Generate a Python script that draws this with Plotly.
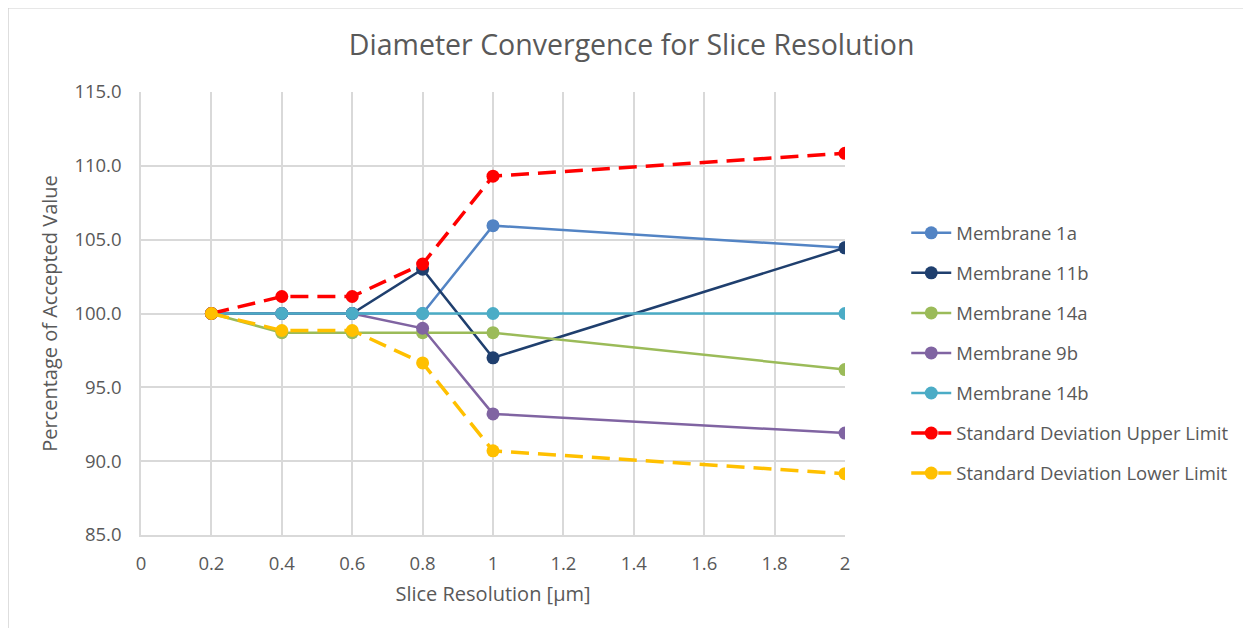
import plotly.graph_objects as go

# slice resolution values (um)
x_res = [0.2, 0.4, 0.6, 0.8, 1, 2]

membrane_1a = [100.0, 100.0, 100.0, 100.0, 105.95, 104.45]
membrane_11b = [100.0, 100.0, 100.0, 103.0, 97.0, 104.45]
membrane_14a = [100.0, 98.7, 98.7, 98.7, 98.7, 96.2]
membrane_9b = [100.0, 100.0, 100.0, 99.0, 93.2, 91.9]
membrane_14b = [100.0, 100.0, 100.0, 100.0, 100.0, 100.0]
sd_upper = [100.0, 101.15, 101.15, 103.35, 109.3, 110.85]
sd_lower = [100.0, 98.85, 98.85, 96.65, 90.7, 89.15]

series = [
    ("Membrane 1a", membrane_1a, "#5384C4", "solid"),
    ("Membrane 11b", membrane_11b, "#1F3F6E", "solid"),
    ("Membrane 14a", membrane_14a, "#9BBB59", "solid"),
    ("Membrane 9b", membrane_9b, "#8064A2", "solid"),
    ("Membrane 14b", membrane_14b, "#4BACC6", "solid"),
    ("Standard Deviation Upper Limit", sd_upper, "#FF0000", "18px,9px"),
    ("Standard Deviation Lower Limit", sd_lower, "#FFC000", "18px,9px"),
]

fig = go.Figure()
for i, (name, vals, col, dash) in enumerate(series):
    lw = 2.5 if dash == "solid" else 3.5
    fig.add_trace(go.Scatter(
        x=x_res, y=vals, name=name, mode="lines+markers",
        line=dict(color=col, width=lw, dash=dash),
        marker=dict(color=col, size=13),
        legendgroup=str(i),
    ))

grid = "#D9D9D9"
txt = "#595959"

# page body has an 8px margin, so the figure is a bit smaller than the window
fig.update_layout(
    width=1235, height=620,
    margin=dict(l=133, r=398, t=84, b=93, autoexpand=False),
    paper_bgcolor="white", plot_bgcolor="white",
    font=dict(family="Open Sans, Liberation Sans, sans-serif", color=txt, size=17),
    title=dict(text="Diameter Convergence for Slice Resolution",
               x=0.505, xref="container", xanchor="center", y=0.94, yanchor="middle",
               font=dict(size=28.5, color=txt)),
    legend=dict(x=1.087, y=0.724, xanchor="left", yanchor="top",
                font=dict(size=18.5, color=txt), tracegroupgap=13, itemwidth=40,
                bgcolor="rgba(0,0,0,0)"),
    xaxis=dict(range=[0, 2], dtick=0.2, tick0=0, showgrid=True, gridcolor=grid,
               gridwidth=1.5, zeroline=False, showline=True, linecolor=grid,
               linewidth=1.5, ticks="outside", ticklen=11, tickcolor="rgba(0,0,0,0)",
               tickfont=dict(size=18.5, color=txt),
               title=dict(text="Slice Resolution [µm]", font=dict(size=20, color=txt), standoff=13)),
    yaxis=dict(range=[85, 115], dtick=5, tickformat=".1f", showgrid=True, gridcolor=grid,
               gridwidth=1.5, zeroline=False, showline=True, linecolor=grid,
               linewidth=1.5, ticks="outside", ticklen=14, tickcolor="rgba(0,0,0,0)",
               tickfont=dict(size=18.5, color=txt),
               title=dict(text="Percentage of Accepted Value", font=dict(size=20, color=txt), standoff=11)),
)

# light chart border like the spreadsheet frame
fig.add_shape(type="rect", xref="paper", yref="paper",
              x0=-0.189, x1=1.57, y0=-0.22, y1=1.19,
              line=dict(color="#D0D0D0", width=1.5), layer="below")

fig.write_html("out.html")
